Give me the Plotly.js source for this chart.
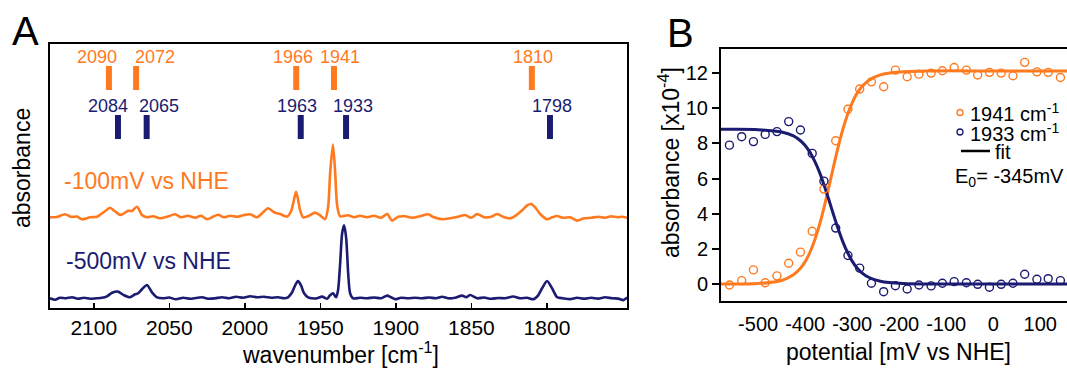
<!DOCTYPE html>
<html>
<head>
<meta charset="utf-8">
<script src="https://cdn.plot.ly/plotly-3.0.1.min.js"></script>
<style>html,body{margin:0;padding:0;background:#fff;}#chart{width:1067px;height:368px;}</style>
</head>
<body>
<div id="chart"></div>
<script>
// ---------- Panel A: IR spectra ----------
var wn100 = [2129,2124.4,2119.1,2115.1,2111.1,2107.8,2102.5,2097.9,2095.9,2092.6,2089.3,2086,2082.6,2080,2077.3,2074.7,2071.4,2068.1,2064.8,2060.8,2056.2,2051.5,2046.2,2042.2,2037.6,2033,2029,2025,2021.1,2017.7,2013.8,2009.8,2005.2,2001.2,1996.5,1991.9,1988.6,1984.6,1980.7,1976.7,1972,1969.4,1967.4,1966.1,1964.8,1963.4,1961.4,1957.5,1953.5,1950.2,1946.9,1944.9,1943.5,1941.7,1940.2,1938.9,1936.9,1931.6,1927.7,1923.7,1919.1,1914.4,1909.8,1905.8,1902.5,1898.5,1893.9,1889.3,1884,1878.7,1874.7,1869.4,1864.1,1858.8,1854.2,1850.2,1846.2,1841.6,1837,1833,1828.3,1824.4,1820.4,1816.4,1813.1,1810.5,1807.8,1804.5,1799.9,1796.6,1793.2,1789.3,1784.6,1780,1775.4,1770.7,1766.1,1761.5,1757.5,1753.5,1750.2,1746.9];
var abs100 = [0,0.3,3,0.5,0.7,-2,0,0.5,2.5,6,9.6,6,2.4,4,6.6,6.3,10.6,2.3,0,1,-1,0.5,3,0,1.5,-0.5,1.5,-2,0.5,2.5,0,1.5,0.5,2,3,0,4,9,5,3.3,0.7,6,18,25.6,18,7,0,1.5,4.7,2,-2,10,45,72.7,45,12,1,2,0,1.5,0,1.5,-0.5,3.3,-3.3,0.5,1,-0.5,1,3,0,-2,-1,0.5,2.3,-0.5,3.3,0,0.5,3.3,0,-1,2,7,12,13.3,10,3.3,-2,0,1.3,-0.5,0,-3.3,-1,-0.5,0.5,-0.5,1,0,0.5,-0.5];
var wn500 = [2129,2125.7,2122.4,2118.4,2114.4,2110.5,2106.5,2102.5,2098.5,2094.6,2091.3,2087.9,2084,2080,2076,2072.7,2070.7,2068.1,2064.8,2061.5,2058.1,2054.2,2050.2,2045.6,2040.9,2036.3,2032.3,2028.3,2024.4,2019.7,2015.1,2010.5,2005.8,2001.2,1996.5,1991.9,1987.3,1982.6,1978,1974,1971.4,1968.7,1966.7,1964.8,1962.8,1960.8,1958.1,1955.5,1952.2,1948.9,1945.6,1943.6,1941.6,1939.6,1938.3,1936.9,1935.6,1934.3,1932.9,1931.6,1930.3,1928.3,1923.7,1919.1,1914.4,1909.8,1905.8,1903.2,1900.5,1896.6,1891.9,1887.3,1882.6,1878,1873.4,1869.4,1865.4,1860.8,1856.2,1853.5,1850.9,1846.2,1841.6,1837,1832.3,1827.7,1822.4,1817.7,1813.1,1809.1,1805.8,1803.2,1799.9,1796.6,1793.2,1789.3,1784.6,1780,1775.4,1770.7,1766.1,1761.5,1756.8,1752.8,1749.5,1746.9];
var abs500 = [0,-1.5,0.5,0,1,-0.5,0.5,-0.5,0,0.5,2,5.5,6.7,3,1,4,5,9,13.3,6,1,0,0.8,-1,0.5,-0.5,0.3,1,-0.5,0,1,0,1.5,0.5,2,1,1.5,0.5,1,0,1,6,13,17.3,13,5,1,0,0,1.7,-0.5,3,5,1,8,35,65,73,60,25,5,0,0.5,0,0.8,0,2.7,1,-1,0.5,0,0.5,0,0.8,0,1.5,0,0.5,2.7,1,3.3,0,0.8,-0.5,0.3,0,1.8,0,0.5,-1,3,10,17.3,10,1,0,-0.8,0.5,-0.5,0.5,-0.3,1,0,-0.3,-1.8,0.8];
var bands100 = [2090,2072,1966,1941,1810];
var bands500 = [2084,2065,1963,1933,1798];
var xticksA = [2100,2050,2000,1950,1900,1850,1800];

// ---------- Panel B: redox titration ----------
var potential = [-561,-535,-510,-485,-460,-435,-410,-385,-360,-335,-309,-284,-259,-233,-208,-183,-158,-132,-108,-83,-57,-33,-8,17,42,67,93,117,143];
var abs1941 = [-0.06,0.19,0.8,0.07,0.46,1.18,1.81,3.0,5.4,8.15,9.94,11.09,11.5,11.22,12.17,11.79,11.94,12.0,12.13,12.32,12.17,11.89,12.04,12.0,11.85,12.61,12.07,12.04,11.75];
var abs1933 = [7.9,8.38,8.1,8.51,8.67,9.24,8.76,7.43,5.85,3.18,1.62,0.9,0.04,-0.44,-0.1,-0.29,-0.06,-0.11,0.04,0.13,0.07,-0.02,-0.19,-0.02,0.04,0.55,0.27,0.3,0.19];
var fitPotential = [-580,-560,-500,-450,-425,-410,-400,-390,-380,-370,-360,-350,-345,-340,-330,-320,-310,-300,-290,-280,-265,-240,-190,-130,0,160];
var fit1941 = [0,0,0.03,0.2,0.52,0.89,1.27,1.79,2.47,3.32,4.33,5.46,6.05,6.64,7.77,8.78,9.63,10.31,10.83,11.21,11.58,11.9,12.07,12.12,12.12,12.12];
var fit1933 = [8.8,8.8,8.78,8.65,8.43,8.15,7.88,7.5,7.0,6.39,5.65,4.83,4.4,3.97,3.15,2.41,1.8,1.3,0.92,0.65,0.38,0.15,0.02,0,0,0];
var xticksB = [-500,-400,-300,-200,-100,0,100];
var xtickTextB = ['-500','-400','-300','-200','-100','0','100'];
var yticksB = [0,2,4,6,8,10,12];

var ORANGE = '#ff7a1f', NAVY = '#1b1b72';
var FONT = 'Liberation Sans, Arial, sans-serif';
var W = 1067, H = 368;
function px(x){ return x / W; }
function py(y){ return 1 - y / H; }
var offset100 = 90.7, offset500 = 9.7;

var traces = [
  {x: wn100, y: abs100.map(function(v){return v + offset100;}), xaxis:'x', yaxis:'y', mode:'lines',
   line:{color:ORANGE, width:2.6, shape:'spline', smoothing:0.7}, showlegend:false, hoverinfo:'skip'},
  {x: wn500, y: abs500.map(function(v){return v + offset500;}), xaxis:'x', yaxis:'y', mode:'lines',
   line:{color:NAVY, width:2.6, shape:'spline', smoothing:0.7}, showlegend:false, hoverinfo:'skip'},
  {x: fitPotential, y: fit1941, xaxis:'x2', yaxis:'y2', mode:'lines',
   line:{color:ORANGE, width:3, shape:'spline'}, showlegend:false, hoverinfo:'skip'},
  {x: fitPotential, y: fit1933, xaxis:'x2', yaxis:'y2', mode:'lines',
   line:{color:NAVY, width:3, shape:'spline'}, showlegend:false, hoverinfo:'skip'},
  {x: potential, y: abs1941, xaxis:'x2', yaxis:'y2', mode:'markers',
   marker:{symbol:'circle-open', size:8, color:ORANGE, line:{width:1.4, color:ORANGE}}, showlegend:false, cliponaxis:false},
  {x: potential, y: abs1933, xaxis:'x2', yaxis:'y2', mode:'markers',
   marker:{symbol:'circle-open', size:8, color:NAVY, line:{width:1.4, color:NAVY}}, showlegend:false, cliponaxis:false}
];

var shapes = [];
var annotations = [];
var labShift100 = [-12, 18.6, -3, 6, 1];
var labShift500 = [-10, 12.4, -4, 7, 2];
bands100.forEach(function(b, i){
  shapes.push({type:'line', xref:'x', yref:'y', x0:b, x1:b, y0:218, y1:242, line:{color:ORANGE, width:6}});
  annotations.push({xref:'x', yref:'y', x:b, y:251, xshift:labShift100[i], text:String(b), showarrow:false,
    font:{family:FONT, size:18, color:ORANGE}, xanchor:'center', yanchor:'middle'});
});
bands500.forEach(function(b, i){
  shapes.push({type:'line', xref:'x', yref:'y', x0:b, x1:b, y0:169, y1:193, line:{color:NAVY, width:6}});
  annotations.push({xref:'x', yref:'y', x:b, y:202, xshift:labShift500[i], text:String(b), showarrow:false,
    font:{family:FONT, size:18, color:NAVY}, xanchor:'center', yanchor:'middle'});
});

function txt(x, y, t, size, color, xa, extra){
  var a = {xref:'paper', yref:'paper', x:px(x), y:py(y), text:t, showarrow:false,
    font:{family:FONT, size:size, color:color||'#000'}, xanchor:xa||'center', yanchor:'middle'};
  if (extra) for (var k in extra) a[k] = extra[k];
  annotations.push(a);
}
txt(25, 31, 'A', 40, '#000');
txt(680, 33, 'B', 40, '#000');
txt(62, 181, '-100mV vs NHE', 23, ORANGE, 'left');
txt(64, 261, '-500mV vs NHE', 23, NAVY, 'left');
txt(22, 168, 'absorbance', 23, '#000', 'center', {textangle:-90});
txt(340, 353, 'wavenumber [cm<sup>-1</sup>]', 23, '#000');
txt(669, 163, 'absorbance [x10<sup>-4</sup>]', 23, '#000', 'center', {textangle:-90});
txt(898, 352, 'potential [mV vs NHE]', 23, '#000');
// legend of panel B
shapes.push({type:'circle', xref:'paper', yref:'paper', x0:px(957), x1:px(963), y0:py(109.5), y1:py(115.5), line:{color:ORANGE, width:1.3}});
shapes.push({type:'circle', xref:'paper', yref:'paper', x0:px(957), x1:px(963), y0:py(129), y1:py(135), line:{color:NAVY, width:1.3}});
shapes.push({type:'line', xref:'paper', yref:'paper', x0:px(961), x1:px(990), y0:py(151), y1:py(151), line:{color:'#000', width:2.5}});
txt(968, 112, '1941 cm<sup>-1</sup>', 20, '#000', 'left');
txt(968, 132, '1933 cm<sup>-1</sup>', 20, '#000', 'left');
txt(993, 152, 'fit', 20, '#000', 'left');
txt(953, 177, 'E<sub>0</sub>= -345mV', 20, '#000', 'left');

var layout = {
  width: W, height: H, autosize:false,
  margin:{l:0, r:0, t:0, b:0, pad:0},
  paper_bgcolor:'#fff', plot_bgcolor:'rgba(0,0,0,0)',
  font:{family:FONT, color:'#000'},
  showlegend:false,
  xaxis:{domain:[px(50), px(627)], range:[2129, 1747], tickvals:xticksA, ticks:'inside', ticklen:5, tickwidth:1.5,
    tickcolor:'#000', showline:true, linecolor:'#000', linewidth:2, mirror:true, showgrid:false, zeroline:false,
    tickangle:0, tickfont:{family:FONT, size:21, color:'#000'}, anchor:'y', fixedrange:true},
  yaxis:{domain:[py(308), py(44)], range:[0, 264], showticklabels:false, ticks:'', showline:true, linecolor:'#000',
    linewidth:2, mirror:true, showgrid:false, zeroline:false, anchor:'x', fixedrange:true},
  xaxis2:{domain:[px(721), 1], range:[-579, 157], tickvals:xticksB, ticktext:xtickTextB, ticks:'', showline:true, linecolor:'#000',
    linewidth:2, mirror:true, showgrid:false, zeroline:false, tickangle:0, ticklabelstandoff:4,
    tickfont:{family:FONT, size:20, color:'#000'}, anchor:'y2', fixedrange:true},
  yaxis2:{domain:[py(301), py(49)], range:[-0.97, 13.37], tickvals:yticksB, ticks:'outside', ticklen:7, tickwidth:2,
    tickcolor:'#000', showline:true, linecolor:'#000', linewidth:2, mirror:false, showgrid:false, zeroline:false,
    tickfont:{family:FONT, size:20, color:'#000'}, anchor:'x2', fixedrange:true},
  shapes: shapes,
  annotations: annotations
};
Plotly.newPlot('chart', traces, layout, {staticPlot:true, displayModeBar:false});
</script>
</body>
</html>
